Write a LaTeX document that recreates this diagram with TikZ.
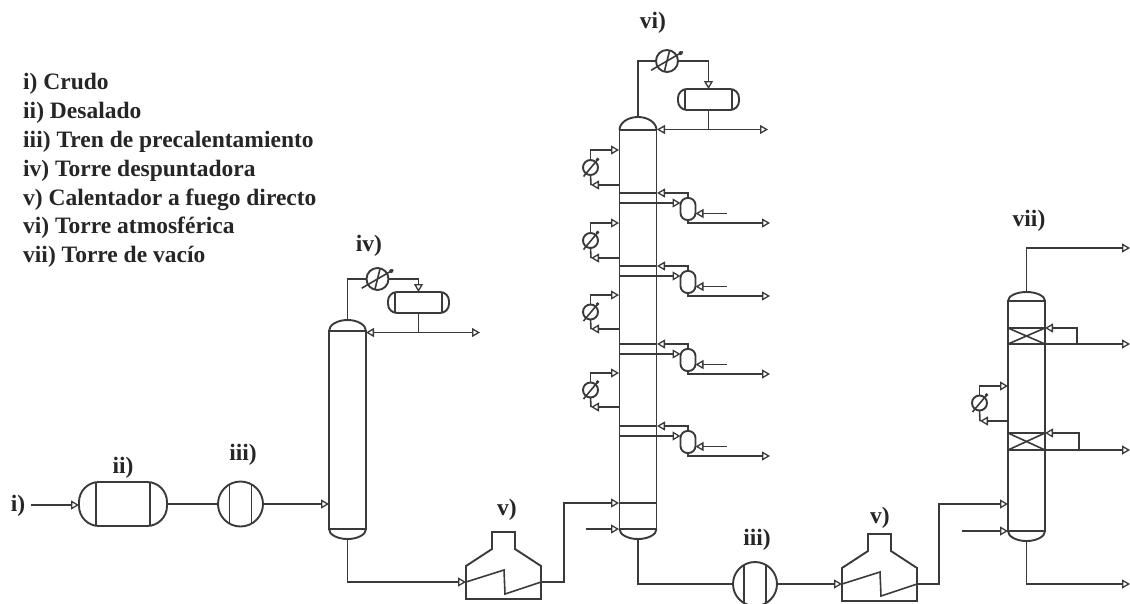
\documentclass[tikz,border=0pt]{standalone}
\usepackage{fontspec}
\setmainfont{Liberation Serif}
\usetikzlibrary{arrows.meta,calc}
\definecolor{ink}{HTML}{3A3A3A}
\tikzset{
  x=1pt,y=-1pt,
  pipe/.style={draw=ink,line width=1.6pt,line join=miter},
  flow/.style={pipe,-{Triangle[open,length=8pt,width=9pt,line width=1.3pt]}},
  wall/.style={draw=ink,line width=1.9pt,inner sep=0pt,outer sep=0pt},
  tower/.style={wall,rectangle,minimum width=37pt},
  divided/.style={path picture={
     \draw[ink,line width=1.6pt] ([xshift=-#1 pt]path picture bounding box.north) -- ([xshift=-#1 pt]path picture bounding box.south);
     \draw[ink,line width=1.6pt] ([xshift=#1 pt]path picture bounding box.north) -- ([xshift=#1 pt]path picture bounding box.south);}},
  exch/.style={wall,circle,minimum size=45pt,divided=11},
  cool/.style={wall,circle,minimum size=#1},
  label/.style={font=\bfseries\fontsize{23.5}{23.5}\selectfont,text=black!85,inner sep=0pt},
  legend/.style={font=\bfseries\fontsize{23.5}{23.5}\selectfont,text=black!85,inner sep=0pt,anchor=west},
}
\newcommand{\capsunit}[3]{%
  \draw[wall] (#1.north west) arc[start angle=180,end angle=0,x radius=18.5pt,y radius=#2pt];
  \draw[wall] (#1.south west) arc[start angle=180,end angle=360,x radius=18.5pt,y radius=#3pt];}
\newcommand{\coolerunit}[4]{% name, cx, cy, diameter
  \node[cool=#4pt] (#1) at (#2,#3) {};
  \draw[pipe] ($(#1.center)+(-0.72*#4,0.42*#4)$) -- ($(#1.center)+(0.72*#4,-0.42*#4)$);
  \draw[pipe] ($(#1.center)+(-0.12*#4,0.48*#4)$) -- ($(#1.center)+(0.12*#4,-0.48*#4)$);
  \fill[ink] ($(#1.center)+(0.62*#4,-0.36*#4)$) circle (2pt);}
\newcommand{\sideunit}[3]{% index, top y, bottom y of a side cooler
  \coordinate (sa#1) at (619,#2);
  \coordinate (sb#1) at (619,#3);
  \node[cool=15pt] (sc#1) at (590.5,{(#2+#3)/2}) {};
  \coordinate (st#1) at (591,#3);
  \draw[pipe] ($(sc#1.center)+(-7,9)$) -- ($(sc#1.center)+(8,-9)$);
  \fill[ink] ($(sc#1.center)+(7,-8)$) circle (1.8pt);
  \draw[flow] (sc#1.north) |- (sa#1);
  \draw[pipe] (sc#1.south) -- (st#1);
  \draw[flow] (sb#1) -- (st#1);}
\newcommand{\stripperunit}[2]{% index, centre y
  \node[wall,rectangle,rounded corners=7pt,minimum width=15pt,minimum height=22pt] (sp#1) at (688,#2) {};
  \coordinate (pa#1) at (619,#2-16);
  \coordinate (pb#1) at (657,#2-16);
  \coordinate (pc#1) at (619,#2-6);
  \coordinate (pd#1) at (727,#2+4.5);
  \coordinate (pe#1) at (770,#2+14);
  \draw[pipe] (pa#1) -- (pb#1);
  \draw[flow] (sp#1.north) |- (pb#1);
  \draw[flow] (pc#1) -- (sp#1.west |- pc#1);
  \draw[flow] (pd#1) -- (sp#1.east |- pd#1);
  \draw[flow] (sp#1.south) |- (pe#1);}
\newcommand{\heaterunit}[3]{% name, left x, coil y
  \begin{scope}[shift={(#2,#3)}]
    \coordinate (#1in) at (0,0);
    \coordinate (#1out) at (75,0);
    \draw[wall] (0,17) -- (75,17) -- (75,-16) -- (49,-33) -- (49,-50) -- (26,-50) -- (26,-33) -- (0,-16) -- cycle;
    \draw[pipe] (#1in) -- (38,-12) -- (39,12) -- (#1out);
  \end{scope}}
\begin{document}
\begin{tikzpicture}
\useasboundingbox[fill=white] (0,0) rectangle (1130,603);

% legend
\node[legend] (l1) at (23,84) {i) Crudo};
\node[legend] (l2) at (23,113) {ii) Desalado};
\node[legend] (l3) at (23,142) {iii) Tren de precalentamiento};
\node[legend] (l4) at (23,171) {iv) Torre despuntadora};
\node[legend] (l5) at (23,200) {v) Calentador a fuego directo};
\node[legend] (l6) at (23,228) {vi) Torre atmosférica};
\node[legend] (l7) at (23,257) {vii) Torre de vacío};

% labels
\node[label] (ti) at (18,506) {i)};
\node[label] (tii) at (123,468) {ii)};
\node[label] (tiii) at (243,455) {iii)};
\node[label] (tiv) at (369,246) {iv)};
\node[label] (tv) at (507,510) {v)};
\node[label] (tvi) at (653,23) {vi)};
\node[label] (tiiib) at (757,540) {iii)};
\node[label] (tvb) at (880,518) {v)};
\node[label] (tvii) at (1029,221) {vii)};

% feed train
\coordinate (feed) at (31,505);
\node[wall,rectangle,rounded corners=20pt,minimum width=88pt,minimum height=44pt,divided=27] (desal) at (123,504) {};
\node[exch] (hx1) at (240.5,504) {};
\draw[flow] (feed) -- (desal.west |- feed);
\draw[pipe] (desal.east |- hx1) -- (hx1.west);

% towers
\node[tower,minimum height=198pt] (t1) at (347.5,430) {};
\node[tower,minimum height=399pt] (t2) at (638,329.5) {};
\node[tower,minimum height=230pt] (t3) at (1026.5,416) {};
\capsunit{t1}{11}{10}
\capsunit{t2}{13}{10}
\capsunit{t3}{9}{10}
\coordinate (t1top) at (347.5,320);
\coordinate (t1bot) at (347.5,539);
\coordinate (t2top) at (638,117);
\coordinate (t2bot) at (638,539);
\coordinate (t3top) at (1026.5,292);
\coordinate (t3bot) at (1026.5,541);
\draw[flow] (hx1.east) -- (t1.west |- hx1);

% iv overhead
\coolerunit{c1}{377.5}{279}{22}
\node[wall,rectangle,rounded corners=9pt,minimum width=61pt,minimum height=21pt,divided=23.5] (d1) at (418.5,302.5) {};
\coordinate (r1) at (366,332.5);
\coordinate (o1) at (480,332.5);
\coordinate (j1) at (418.5,332.5);
\draw[pipe] (t1top) |- (c1.west);
\draw[flow] (c1.east) -| (d1.north);
\draw[pipe] (d1.south) -- (j1);
\draw[flow] (j1) -- (r1);
\draw[flow] (j1) -- (o1);

% heater 1
\heaterunit{h1}{466}{582}
\draw[flow] (t1bot) |- (h1in);
\coordinate (f2) at (619,503);
\coordinate (f2e) at (657,503);
\draw[flow] (h1out) -- (564,582) |- (f2);
\draw[pipe] (f2) -- (f2e);
\coordinate (s2) at (619,529);
\coordinate (s2s) at (586,529);
\draw[flow] (s2s) -- (s2);

% vi overhead
\coolerunit{c2}{667}{61}{22}
\node[wall,rectangle,rounded corners=9pt,minimum width=61pt,minimum height=21pt,divided=23.5] (d2) at (708.5,99.5) {};
\coordinate (r2) at (657,129.5);
\coordinate (o2) at (768,129.5);
\coordinate (j2) at (708.5,129.5);
\draw[pipe] (t2top) |- (c2.west);
\draw[flow] (c2.east) -| (d2.north);
\draw[pipe] (d2.south) -- (j2);
\draw[flow] (j2) -- (r2);
\draw[flow] (j2) -- (o2);

% side coolers and strippers of vi
\sideunit{1}{150}{185}
\sideunit{2}{223}{258}
\sideunit{3}{295}{329}
\sideunit{4}{373}{407}
\stripperunit{1}{209}
\stripperunit{2}{282}
\stripperunit{3}{360}
\stripperunit{4}{442}

% second train
\node[exch,minimum size=44pt] (hx2) at (755,584) {};
\heaterunit{h2}{842}{584}
\draw[pipe] (t2bot) |- (hx2.west);
\draw[flow] (hx2.east) -- (h2in);
\coordinate (f3) at (1008,504);
\draw[flow] (h2out) -- (939,584) |- (f3);
\coordinate (s3) at (1008,531);
\coordinate (s3s) at (962,531);
\draw[flow] (s3s) -- (s3);

% vii
\coordinate (ov) at (1130,248);
\draw[flow] (t3top) |- (ov);
\coordinate (botv) at (1130,584);
\draw[flow] (t3bot) |- (botv);
\foreach \n/\a/\b/\rx in {1/328/344/1077,2/433/450/1079}{
  \coordinate (pw\n) at (1008,\a);
  \coordinate (pz\n) at (1045,\a);
  \coordinate (px\n) at (1008,\b);
  \coordinate (py\n) at (1045,\b);
  \coordinate (pj\n) at (\rx,\b);
  \coordinate (po\n) at (1130,\b);
  \draw[wall] (pw\n) -- (pz\n);
  \draw[wall] (px\n) -- (py\n);
  \draw[pipe] (pw\n) -- (py\n);
  \draw[pipe] (px\n) -- (pz\n);
  \draw[flow] (pj\n) |- (pz\n);
  \draw[flow] (py\n) -- (po\n);
}
\coordinate (sv1) at (1008,386);
\coordinate (sv2) at (1008,421);
\coordinate (sv3) at (980,421);
\node[cool=15pt] (cv) at (979.5,403) {};
\draw[pipe] ($(cv.center)+(-7,9)$) -- ($(cv.center)+(8,-9)$);
\fill[ink] ($(cv.center)+(7,-8)$) circle (1.8pt);
\draw[flow] (cv.north) |- (sv1);
\draw[pipe] (cv.south) -- (sv3);
\draw[flow] (sv2) -- (sv3);
\end{tikzpicture}
\end{document}
